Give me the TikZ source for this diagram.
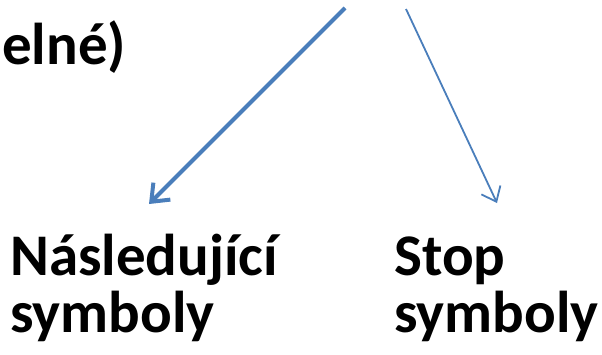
\documentclass[tikz,border=0pt]{standalone}
\usepackage{fontspec}
\setmainfont{Carlito}
\usetikzlibrary{arrows.meta}
\definecolor{arrowblue}{HTML}{4A7EBB}
\tikzstyle{label} = [inner sep=0pt, anchor=base west, align=left,
font=\fontsize{59}{57}\selectfont\bfseries]
\tikzstyle{line} = [draw, color=arrowblue]

\begin{document}
\begin{tikzpicture}[x=1pt, y=-1pt]
	\useasboundingbox (0,0) rectangle (602,354);
	\node [label] (Top) at (2,64) {eln\'e)};
	\node [label] (Next) at (10,332) {N\'asleduj\'ic\'i\\symboly};
	\node [label] (Stop) at (394,332) {Stop\\symboly};
	\coordinate (FromA) at (345,8);
	\coordinate (FromB) at (406,9);
	\coordinate (ToA) at (149,204);
	\coordinate (ToB) at (497,203);
    %% Flows
	\path [line, line width=4pt, -{Straight Barb[length=15pt, width=24pt, line width=4pt]}] (FromA) -- (ToA);
	\path [line, line width=1.8pt, -{Straight Barb[length=13pt, width=21pt, line width=1.8pt]}] (FromB) -- (ToB);
\end{tikzpicture}
\end{document}
